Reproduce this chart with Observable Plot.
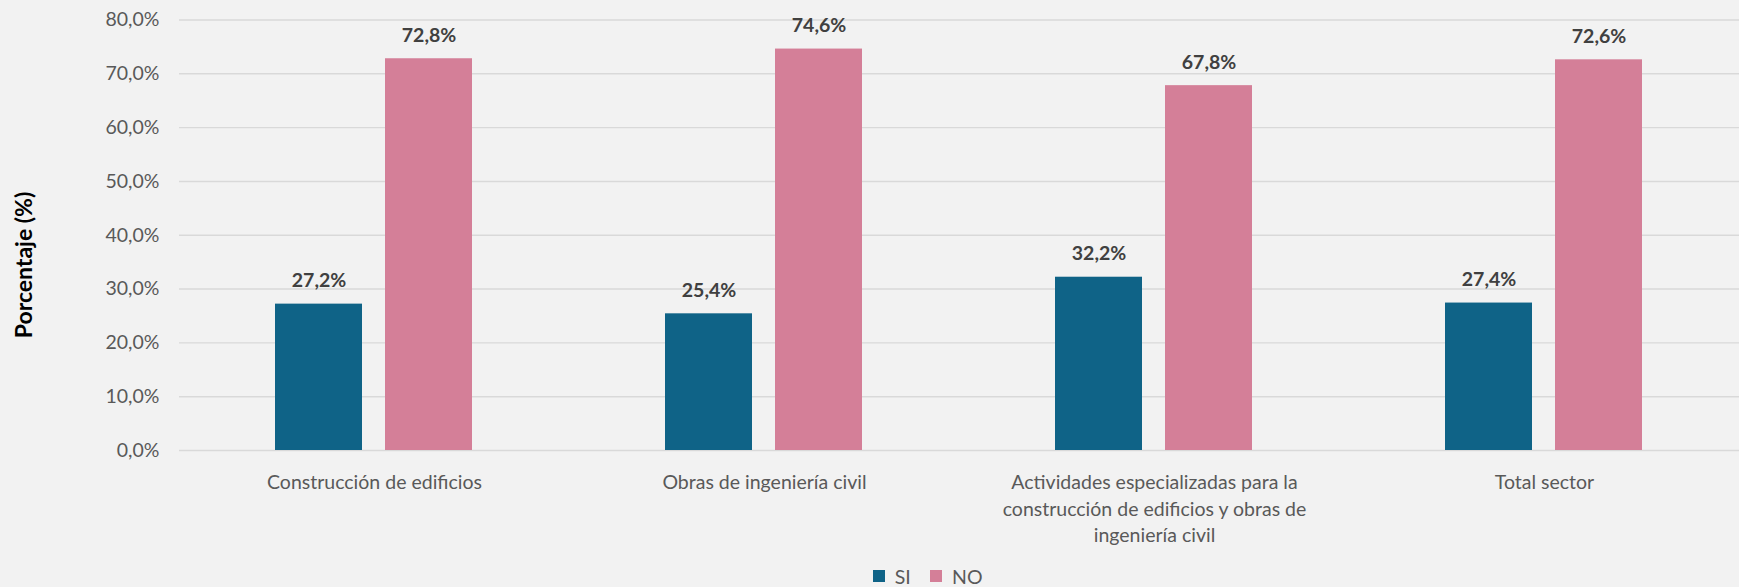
<!DOCTYPE html>
<html>
<head>
<meta charset="utf-8">
<script src="https://cdn.jsdelivr.net/npm/d3@7"></script>
<script src="https://cdn.jsdelivr.net/npm/@observablehq/plot@0.6"></script>
<style>
  html, body { margin: 0; padding: 0; background: #f2f2f2; overflow: hidden; }
  #wrap { position: relative; width: 1739px; height: 587px; }
  #ytitle {
    position: absolute; left: 23px; top: 265px;
    transform: translate(-50%, -50%) rotate(-90deg);
    font-family: Lato, sans-serif; font-weight: bold; font-size: 23px; color: #000;
    white-space: nowrap;
  }
</style>
</head>
<body>
<div id="wrap"></div>
<script>
const categories = [
  "Construcción de edificios",
  "Obras de ingeniería civil",
  "Actividades especializadas para la construcción de edificios y obras de ingeniería civil",
  "Total sector"
];
const categoryLabels = [
  "Construcción de edificios",
  "Obras de ingeniería civil",
  "Actividades especializadas para la\nconstrucción de edificios y obras de\ningeniería civil",
  "Total sector"
];
const series = ["SI", "NO"];
const siValues = [27.2, 25.4, 32.2, 27.4];
const noValues = [72.8, 74.6, 67.8, 72.6];
const yTicks = [0, 10, 20, 30, 40, 50, 60, 70, 80];
const colors = ["#0f6387", "#d47f98"];
const yTitle = "Porcentaje (%)";

const data = [];
categories.forEach((c, i) => {
  data.push({cat: c, series: "SI", value: siValues[i]});
  data.push({cat: c, series: "NO", value: noValues[i]});
});
const labelOf = new Map(categories.map((c, i) => [c, categoryLabels[i]]));
const fmt = v => v.toFixed(1).replace(".", ",") + "%";

const chart = Plot.plot({
  width: 1739,
  height: 560,
  marginLeft: 179,
  marginRight: 0,
  marginTop: 19.5,
  marginBottom: 110,
  style: {fontFamily: "Lato, sans-serif", fontSize: "19.5px", color: "#595959", background: "#f2f2f2"},
  fx: {domain: categories, padding: 0, axis: null, label: null},
  x: {domain: series, paddingInner: 0.208, paddingOuter: 0.87, axis: null, label: null},
  y: {domain: [0, 80], ticks: yTicks, tickFormat: fmt, tickSize: 0, tickPadding: 20, label: null, axis: "left"},
  color: {domain: series, range: colors},
  marks: [
    Plot.gridY(yTicks, {stroke: "#d9d9d9", strokeOpacity: 1, strokeWidth: 1.4}),
    Plot.barY(data, {fx: "cat", x: "series", y: "value", fill: "series"}),
    Plot.text(data, {fx: "cat", x: "series", y: "value", text: d => fmt(d.value),
      lineAnchor: "bottom", dy: -17, fontWeight: "bold", fill: "#404040"}),
    Plot.text(categories, {fx: d => d, text: d => labelOf.get(d), frameAnchor: "bottom",
      lineAnchor: "top", dy: 20, lineHeight: 1.35, fill: "#595959"})
  ]
});

const wrap = document.getElementById("wrap");
wrap.appendChild(chart);

const legend = Plot.legend({
  color: {domain: series, range: colors},
  swatchSize: 12
});
legend.style.fontFamily = "Lato, sans-serif";
legend.style.fontSize = "19.5px";
legend.style.color = "#595959";
legend.style.margin = "0";
legend.style.minHeight = "32px";
legend.style.paddingLeft = "873px";
legend.style.background = "#f2f2f2";
wrap.appendChild(legend);

const t = document.createElement("div");
t.id = "ytitle";
t.textContent = yTitle;
wrap.appendChild(t);
</script>
</body>
</html>
